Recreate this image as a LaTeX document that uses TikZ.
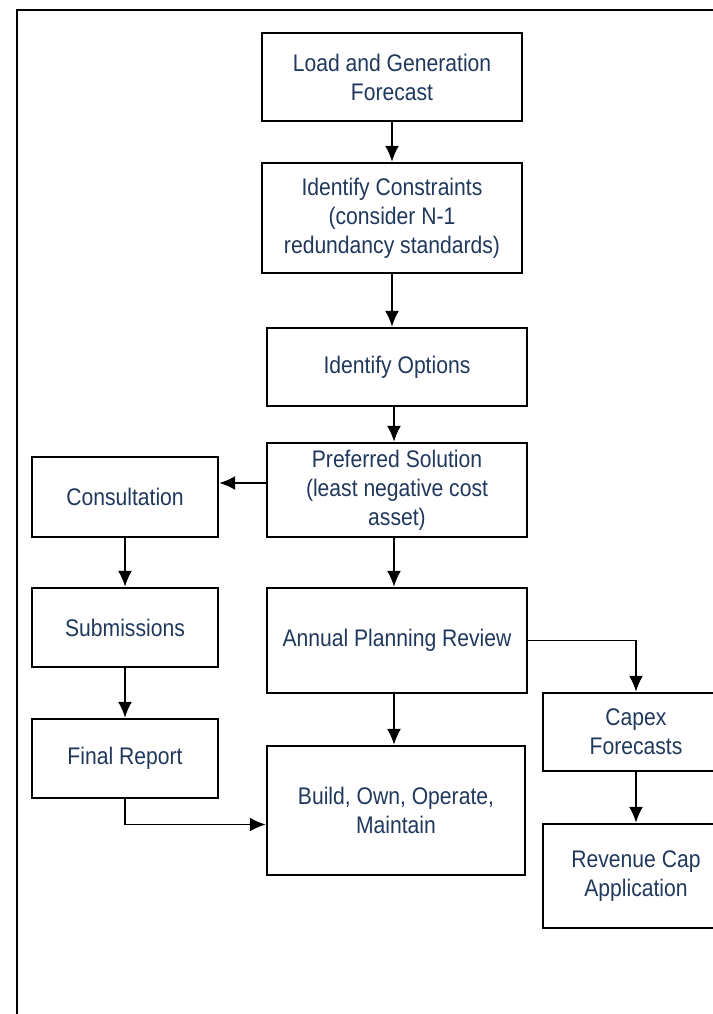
\documentclass[tikz,border=0pt]{standalone}
\usepackage{fontspec}
\setmainfont{Liberation Sans}[FakeStretch=0.88]
\usepackage{xcolor}
\usepackage{tikz}
\usetikzlibrary{arrows.meta}
\definecolor{boxtext}{RGB}{31,56,92}
\tikzset{
  box/.style={draw, line width=1.2pt, align=center, text=boxtext,
    font=\fontsize{12}{14.5}\selectfont, inner sep=0pt},
  arr/.style={-{Latex[length=8pt,width=7pt]}, line width=0.9pt}
}

\begin{document}
\begin{tikzpicture}[x=0.5pt,y=-0.5pt]
\useasboundingbox (0,0) rectangle (713,1014);
\clip (0,0) rectangle (713,1014);
\draw[line width=1.2pt] (17,10) rectangle (760,1060);

\node[box, minimum width=130pt, minimum height=44pt] (lg) at (392,77) {Load and Generation\\Forecast};
\node[box, minimum width=130pt, minimum height=55pt] (ic) at (392,218) {Identify Constraints\\(consider N-1\\redundancy standards)};
\node[box, minimum width=130pt, minimum height=39pt] (io) at (397,367) {Identify Options};
\node[box, minimum width=130pt, minimum height=47pt] (ps) at (397,490) {Preferred Solution\\(least negative cost\\asset)};

\node[box, minimum width=93pt, minimum height=40pt] (co) at (125,497) {Consultation};
\node[box, minimum width=93pt, minimum height=39.5pt] (su) at (125,627.5) {Submissions};
\node[box, minimum width=93pt, minimum height=39.5pt] (fr) at (125,758.5) {Final Report};

\node[box, minimum width=130pt, minimum height=52.5pt] (ap) at (397,640.5) {Annual Planning Review};
\node[box, minimum width=129pt, minimum height=64.5pt] (bo) at (396,810.5) {Build, Own, Operate,\\Maintain};

\node[box, minimum width=93pt, minimum height=39pt] (cf) at (636,732) {Capex\\Forecasts};
\node[box, minimum width=93pt, minimum height=52pt] (rc) at (636,876) {Revenue Cap\\Application};

\draw[arr] (lg)--(ic);
\draw[arr] (ic.south)--(ic.south |- io.north);
\draw[arr] ([xshift=-1.5pt]io.south)--([xshift=-1.5pt]ps.north);
\draw[arr] ([yshift=3.5pt]ps.west)--([yshift=3.5pt]ps.west -| co.east);
\draw[arr] ([xshift=-1.5pt]ps.south)--([xshift=-1.5pt]ap.north);
\draw[arr] (co)--(su);
\draw[arr] (su)--(fr);
\draw[arr] (fr.south) |- ([yshift=-7pt]bo.west);
\draw[arr] ([xshift=-1.5pt]ap.south)--([xshift=-1pt]bo.north);
\draw[arr] (ap.east) -| (cf.north);
\draw[arr] (cf)--(rc);
\end{tikzpicture}
\end{document}
